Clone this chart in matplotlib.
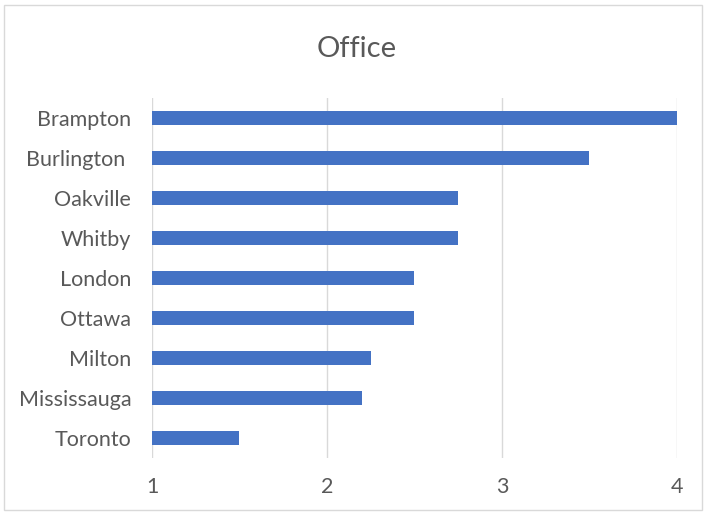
import matplotlib.pyplot as plt
from matplotlib.patches import Rectangle

plt.rcParams['font.family'] = ['Lato', 'DejaVu Sans']

cities = ['Brampton', 'Burlington ', 'Oakville', 'Whitby', 'London',
          'Ottawa', 'Milton', 'Mississauga', 'Toronto']
scores = [4.0, 3.5, 2.75, 2.75, 2.5, 2.5, 2.25, 2.2, 1.5]
ticks = [1, 2, 3, 4]

text_col = '#595959'
bar_col = '#4472C4'

fig = plt.figure(figsize=(7.04, 5.13), dpi=100)
ax = fig.add_axes([0.2159, 0.1072, 0.7457, 0.7018])

# bars start from the left edge of the axis (value 1)
pos = list(range(len(cities)))
ax.barh(pos, [s - 1 for s in scores], left=1, height=0.36, color=bar_col, zorder=3)

ax.set_xlim(1, 4)
ax.set_ylim(len(cities) - 0.5, -0.5)
ax.set_yticks(pos)
ax.set_yticklabels(cities)
ax.set_xticks(ticks)
ax.set_xticklabels([str(t) for t in ticks])
ax.tick_params(length=0, labelsize=15.5, labelcolor=text_col)
ax.tick_params(axis='y', pad=15)
ax.tick_params(axis='x', pad=14)
ax.grid(axis='x', color='#D9D9D9', linewidth=1, zorder=0)
for s in ax.spines.values():
    s.set_visible(False)

fig.text(0.507, 0.905, 'Office', ha='center', va='center', fontsize=21, color=text_col)

# thin frame round the chart
fig.patches.append(Rectangle((4 / 704, 1 - 510 / 513), 698 / 704, 505 / 513,
                             transform=fig.transFigure, fill=False,
                             edgecolor='#D9D9D9', linewidth=1))

fig.savefig('out.png', dpi=100)
